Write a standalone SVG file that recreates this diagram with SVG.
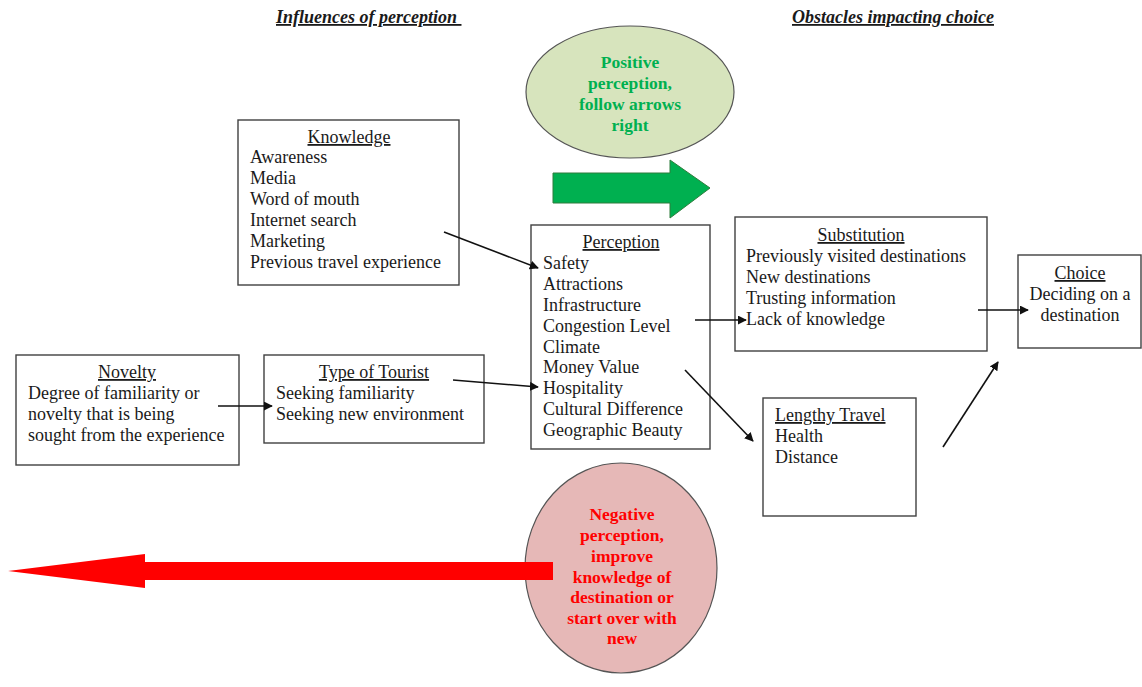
<svg xmlns="http://www.w3.org/2000/svg" width="1142" height="687" viewBox="0 0 1142 687">
<defs>
<style>
.box{fill:#fff;stroke:#404040;stroke-width:1.4}
.t{font-family:"Liberation Serif","Times New Roman",serif;font-size:18px;fill:#1a1a1a}
.h{text-decoration:underline}
.c{text-anchor:middle}
.hd{font-family:"Liberation Serif","Times New Roman",serif;font-size:18px;font-weight:bold;font-style:italic;text-decoration:underline;fill:#1a1a1a}
.g{font-family:"Liberation Serif","Times New Roman",serif;font-size:17.5px;font-weight:bold;fill:#00b050;text-anchor:middle}
.r{font-family:"Liberation Serif","Times New Roman",serif;font-size:17.5px;font-weight:bold;fill:#ff0000;text-anchor:middle}
.ln{stroke:#111;stroke-width:1.6;fill:none;marker-end:url(#ah)}
</style>
<marker id="ah" viewBox="0 0 10 10" refX="9" refY="5" markerWidth="9" markerHeight="9" orient="auto" markerUnits="userSpaceOnUse">
<path d="M0,0 L10,5 L0,10 z" fill="#111"/>
</marker>
</defs>
<rect width="1142" height="687" fill="#fff"/>

<g id="headings">
<text class="hd" x="276" y="23" xml:space="preserve">Influences of perception </text>
<text class="hd" x="792" y="23">Obstacles impacting choice</text>
</g>

<g id="positive">
<ellipse cx="630" cy="92" rx="104" ry="66" fill="#d7e4bd" stroke="#555" stroke-width="1.2"/>
<text class="g" x="630" y="68">Positive</text>
<text class="g" x="630" y="89">perception,</text>
<text class="g" x="630" y="110">follow arrows</text>
<text class="g" x="630" y="131">right</text>
</g>

<g id="green-arrow">
<path d="M553,173 L670,173 L670,160 L710,188 L670,218 L670,203 L553,203 Z" fill="#00b050" stroke="#2e7d3c" stroke-width="1"/>
</g>

<g id="knowledge">
<rect class="box" x="238" y="120" width="221" height="165"/>
<text class="t h c" x="349" y="143">Knowledge</text>
<text class="t" x="250" y="163">Awareness</text>
<text class="t" x="250" y="184">Media</text>
<text class="t" x="250" y="205">Word of mouth</text>
<text class="t" x="250" y="226">Internet search</text>
<text class="t" x="250" y="247">Marketing</text>
<text class="t" x="250" y="268">Previous travel experience</text>
</g>

<g id="novelty">
<rect class="box" x="16" y="355" width="223" height="110"/>
<text class="t h c" x="127" y="378">Novelty</text>
<text class="t" x="28" y="399">Degree of familiarity or</text>
<text class="t" x="28" y="420">novelty that is being</text>
<text class="t" x="28" y="441">sought from the experience</text>
</g>

<g id="tourist">
<rect class="box" x="264" y="355" width="220" height="88"/>
<text class="t h c" x="374" y="378">Type of Tourist</text>
<text class="t" x="276" y="399">Seeking familiarity</text>
<text class="t" x="276" y="420">Seeking new environment</text>
</g>

<g id="perception">
<rect class="box" x="531" y="225" width="179" height="224"/>
<text class="t h c" x="621" y="248">Perception</text>
<text class="t" x="543" y="269">Safety</text>
<text class="t" x="543" y="290">Attractions</text>
<text class="t" x="543" y="311">Infrastructure</text>
<text class="t" x="543" y="332">Congestion Level</text>
<text class="t" x="543" y="353">Climate</text>
<text class="t" x="543" y="373">Money Value</text>
<text class="t" x="543" y="394">Hospitality</text>
<text class="t" x="543" y="415">Cultural Difference</text>
<text class="t" x="543" y="436">Geographic Beauty</text>
</g>

<g id="substitution">
<rect class="box" x="735" y="217" width="252" height="134"/>
<text class="t h c" x="861" y="241">Substitution</text>
<text class="t" x="746" y="262">Previously visited destinations</text>
<text class="t" x="746" y="283">New destinations</text>
<text class="t" x="746" y="304">Trusting information</text>
<text class="t" x="746" y="325">Lack of knowledge</text>
</g>

<g id="choice">
<rect class="box" x="1018" y="255" width="123" height="93"/>
<text class="t h c" x="1080" y="279">Choice</text>
<text class="t c" x="1080" y="300">Deciding on a</text>
<text class="t c" x="1080" y="321">destination</text>
</g>

<g id="lengthy">
<rect class="box" x="763" y="398" width="153" height="118"/>
<text class="t h" x="775" y="421">Lengthy Travel</text>
<text class="t" x="775" y="442">Health</text>
<text class="t" x="775" y="463">Distance</text>
</g>

<g id="negative">
<ellipse cx="621" cy="568" rx="96" ry="105" fill="#e6b8b7" stroke="#555" stroke-width="1.2"/>
<text class="r" x="622" y="520">Negative</text>
<text class="r" x="622" y="541">perception,</text>
<text class="r" x="622" y="562">improve</text>
<text class="r" x="622" y="583">knowledge of</text>
<text class="r" x="622" y="603">destination or</text>
<text class="r" x="622" y="624">start over with</text>
<text class="r" x="622" y="644">new</text>
</g>

<g id="red-arrow">
<path d="M553,562 L145,562 L145,554 L8,571 L145,588 L145,580 L553,580 Z" fill="#ff0000"/>
</g>

<g id="connectors">
<line class="ln" x1="444" y1="232" x2="538" y2="268"/>
<line class="ln" x1="453" y1="380" x2="538" y2="387"/>
<line class="ln" x1="218" y1="406" x2="272" y2="406"/>
<line class="ln" x1="695" y1="320" x2="746" y2="320"/>
<line class="ln" x1="685" y1="370" x2="753" y2="441"/>
<line class="ln" x1="978" y1="310" x2="1028" y2="310"/>
<line class="ln" x1="943" y1="447" x2="998" y2="362"/>
</g>
</svg>
